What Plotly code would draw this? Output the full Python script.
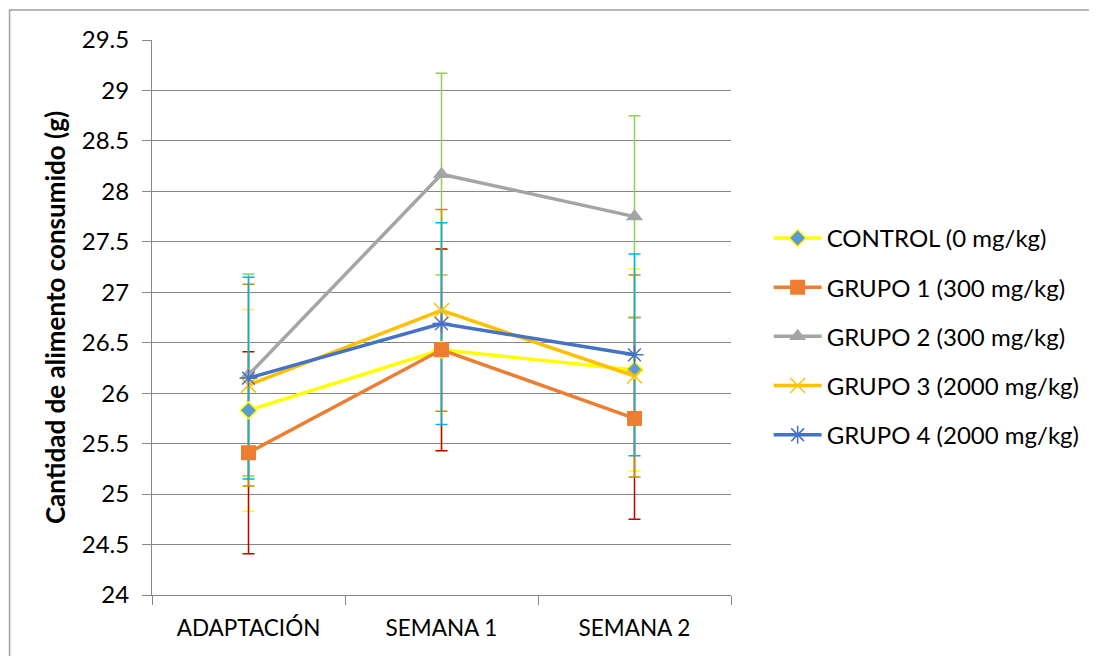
import plotly.graph_objects as go

categories = ["ADAPTACIÓN", "SEMANA 1", "SEMANA 2"]
series_names = ["CONTROL (0 mg/kg)", "GRUPO 1 (300 mg/kg)", "GRUPO 2 (300 mg/kg)",
                "GRUPO 3 (2000 mg/kg)", "GRUPO 4 (2000 mg/kg)"]
control = [25.83, 26.43, 26.23]
grupo1 = [25.41, 26.43, 25.75]
grupo2 = [26.18, 28.17, 27.75]
grupo3 = [26.08, 26.82, 26.17]
grupo4 = [26.15, 26.69, 26.38]
err_control = [1.0, 1.0, 1.0]
err_grupo1 = [1.0, 1.0, 1.0]
err_grupo2 = [1.0, 1.0, 1.0]
err_grupo3 = [1.0, 1.0, 1.0]
err_grupo4 = [1.0, 1.0, 1.0]
y_ticks = [24, 24.5, 25, 25.5, 26, 26.5, 27, 27.5, 28, 28.5, 29, 29.5]

values = [control, grupo1, grupo2, grupo3, grupo4]
errors = [err_control, err_grupo1, err_grupo2, err_grupo3, err_grupo4]
line_colors = ["#FFFF00", "#ED7D31", "#A5A5A5", "#FFC000", "#4472C4"]
err_colors = ["#FFFF00", "#C00000", "#92D050", "#BF9000", "#00B0F0"]
markers = [
    dict(symbol="diamond", size=13, color="#5B9BD5", line=dict(color="#FFFF00", width=1.5)),
    dict(symbol="square", size=15, color="#ED7D31", line=dict(width=0)),
    dict(symbol="triangle-up", size=15, color="#A5A5A5", line=dict(width=0)),
    dict(symbol="x-thin-open", size=15, color="#FFC000", line=dict(color="#FFC000", width=1.5)),
    dict(symbol="asterisk-open", size=15, color="#4472C4", line=dict(color="#4472C4", width=1.5)),
]

FONT = "Lato, Carlito, Calibri, sans-serif"

fig = go.Figure()

# error bars first (drawn under the lines)
for vals, errs, col in zip(values, errors, err_colors):
    fig.add_trace(go.Scatter(
        x=categories, y=vals, mode="markers",
        marker=dict(size=1, opacity=0),
        error_y=dict(type="data", array=errs, visible=True, color=col, thickness=1.5, width=6),
        showlegend=False, hoverinfo="skip",
    ))

for i, (name, vals, lc, mk) in enumerate(zip(series_names, values, line_colors, markers)):
    fig.add_trace(go.Scatter(
        x=categories, y=vals, mode="lines+markers", name=name,
        line=dict(color=lc, width=3.5), marker=mk, legendgroup=f"g{i}",
    ))

fig.update_layout(
    width=1089, height=648,
    margin=dict(l=144, r=364, t=32, b=61),
    paper_bgcolor="white", plot_bgcolor="white",
    font=dict(family=FONT, size=24, color="#000000"),
    legend=dict(x=1.065, y=0.466, xanchor="left", yanchor="middle",
                font=dict(family=FONT, size=24, color="#000000"),
                tracegroupgap=15, itemwidth=48, bgcolor="rgba(0,0,0,0)"),
    showlegend=True,
    shapes=[dict(type="rect", xref="paper", yref="paper",
                 x0=-0.246, x1=1.66, y0=-0.14, y1=1.054,
                 line=dict(color="#A0A0A0", width=1.5), fillcolor="rgba(0,0,0,0)", layer="below")],
)

fig.update_xaxes(
    type="category", range=[-0.5, 2.5], tickson="boundaries",
    ticks="outside", ticklen=9, tickcolor="#868686", tickwidth=1,
    showline=True, linecolor="#868686", linewidth=1,
    showgrid=False, tickfont=dict(family=FONT, size=22.5), zeroline=False,
    ticklabelstandoff=13,
)
fig.update_yaxes(
    range=[24, 29.5], tickvals=y_ticks, ticktext=[f"{v:g}" for v in y_ticks],
    ticks="outside", ticklen=9, tickcolor="#868686", tickwidth=1,
    showline=True, linecolor="#868686", linewidth=1,
    showgrid=True, gridcolor="#868686", gridwidth=1, zeroline=False,
    tickfont=dict(family=FONT, size=24), ticklabelstandoff=8,
    title=dict(text="<b>Cantidad de alimento consumido (g)</b>", font=dict(family=FONT, size=26), standoff=8),
)

fig.write_html("out.html")
